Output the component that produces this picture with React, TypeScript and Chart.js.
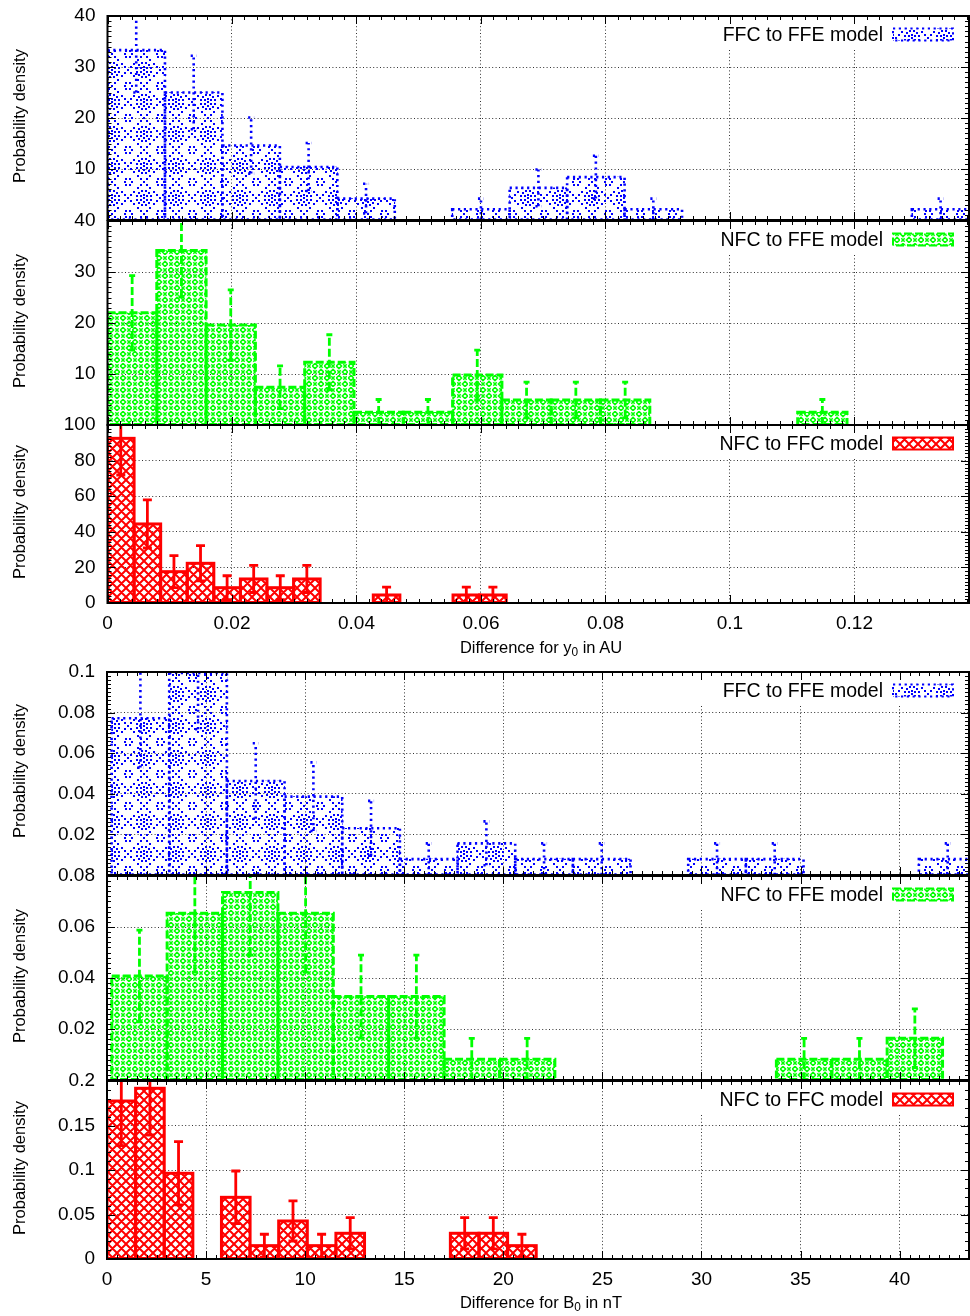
import React, { useEffect, useRef } from 'react';
import { Chart, registerables } from 'chart.js';

Chart.register(...registerables);

const FONT = '"Liberation Sans", Arial, Helvetica, sans-serif';

// ---------- Difference for y0 (AU): 15 equal-width bins per comparison ----------
const y0XMax = 0.1384;
const y0XStep = 0.02;

const y0FfcFfeStart = 0;
const y0FfcFfeWidth = 0.00923;
const y0FfcFfeDensity = [33.3, 25.0, 14.6, 10.4, 4.2, 0, 2.1, 6.3, 8.4, 2.1, 0, 0, 0, 0, 2.1];
const y0FfcFfeError = [8.3, 7.2, 5.5, 4.7, 2.9, 0, 2.1, 3.6, 4.2, 2.1, 0, 0, 0, 0, 2.1];
const y0FfcFfeYMax = 40;
const y0FfcFfeYStep = 10;

const y0NfcFfeStart = 0;
const y0NfcFfeWidth = 0.00792;
const y0NfcFfeDensity = [22.0, 34.2, 19.6, 7.4, 12.3, 2.5, 2.5, 9.8, 4.9, 4.9, 4.9, 0, 0, 0, 2.5];
const y0NfcFfeError = [7.3, 9.1, 6.9, 4.2, 5.4, 2.5, 2.5, 4.9, 3.5, 3.5, 3.5, 0, 0, 0, 2.5];
const y0NfcFfeYMax = 40;
const y0NfcFfeYStep = 10;

const y0NfcFfcStart = 0;
const y0NfcFfcWidth = 0.00427;
const y0NfcFfcDensity = [92.5, 44.4, 17.6, 22.3, 8.6, 13.5, 8.6, 13.5, 0, 0, 4.5, 0, 0, 4.5, 4.5];
const y0NfcFfcError = [20.6, 13.5, 9.0, 9.9, 6.7, 7.6, 6.7, 7.6, 0, 0, 4.4, 0, 0, 4.4, 4.4];
const y0NfcFfcYMax = 100;
const y0NfcFfcYStep = 20;

// ---------- Difference for B0 (nT) ----------
const b0XMax = 43.5;
const b0XStep = 5;

const b0FfcFfeStart = 0.23;
const b0FfcFfeWidth = 2.91;
const b0FfcFfeDensity = [0.0772, 0.0995, 0.0463, 0.0386, 0.023, 0.0078, 0.0156, 0.0078, 0.0078, 0, 0.0078, 0.0078, 0, 0, 0.0078];
const b0FfcFfeError = [0.0243, 0.0277, 0.0186, 0.0169, 0.0135, 0.0078, 0.0108, 0.0078, 0.0078, 0, 0.0078, 0.0078, 0, 0, 0.0078];
const b0FfcFfeYMax = 0.1;
const b0FfcFfeYStep = 0.02;

const b0NfcFfeStart = 0.24;
const b0NfcFfeWidth = 2.795;
const b0NfcFfeDensity = [0.0408, 0.0654, 0.0735, 0.0654, 0.0327, 0.0327, 0.0081, 0.0081, 0, 0, 0, 0, 0.0081, 0.0081, 0.0164];
const b0NfcFfeError = [0.018, 0.0231, 0.0245, 0.0231, 0.0163, 0.0163, 0.0082, 0.0082, 0, 0, 0, 0, 0.0082, 0.0082, 0.0115];
const b0NfcFfeYMax = 0.08;
const b0NfcFfeYStep = 0.02;

const b0NfcFfcStart = 0;
const b0NfcFfcWidth = 1.444;
const b0NfcFfcDensity = [0.1775, 0.1918, 0.0963, 0, 0.0693, 0.015, 0.0427, 0.015, 0.0289, 0, 0, 0, 0.0289, 0.0289, 0.015];
const b0NfcFfcError = [0.05, 0.0525, 0.0355, 0, 0.0296, 0.0128, 0.0225, 0.0128, 0.0175, 0, 0, 0, 0.0175, 0.0175, 0.0128];
const b0NfcFfcYMax = 0.2;
const b0NfcFfcYStep = 0.05;

const LABEL_FFC_FFE = 'FFC to FFE model';
const LABEL_NFC_FFE = 'NFC to FFE model';
const LABEL_NFC_FFC = 'NFC to FFC model';

const BLUE = '#0000ff';
const GREEN = '#00ff00';
const RED = '#ff0000';

type Style = 'dot' | 'dash' | 'solid';

const LINE: Record<Style, { dash: number[]; width: number; cap: number; err: number }> = {
  dot: { dash: [2.2, 3.6], width: 2.6, cap: 3, err: 2.6 },
  dash: { dash: [8, 3], width: 3, cap: 3, err: 2.8 },
  solid: { dash: [], width: 3, cap: 4.5, err: 2.8 },
};

interface Panel {
  key: string;
  top: number;
  bottom: number;
  left: number;
  right: number;
  xMax: number;
  xStep: number;
  yMax: number;
  yStep: number;
  yMinor: number;
  start: number;
  width: number;
  density: number[];
  error: number[];
  color: string;
  style: Style;
  label: string;
  axis: boolean;
  hideZero: boolean;
}

const PAD_T = 26;
const PAD_B = 26;
const AXIS_H = 40;

const PANELS: Panel[] = [
  { key: 'y0a', top: 16, bottom: 220, left: 107.5, right: 969, xMax: y0XMax, xStep: y0XStep, yMax: y0FfcFfeYMax, yStep: y0FfcFfeYStep, yMinor: 10, start: y0FfcFfeStart, width: y0FfcFfeWidth, density: y0FfcFfeDensity, error: y0FfcFfeError, color: BLUE, style: 'dot', label: LABEL_FFC_FFE, axis: false, hideZero: true },
  { key: 'y0b', top: 221, bottom: 425, left: 107.5, right: 969, xMax: y0XMax, xStep: y0XStep, yMax: y0NfcFfeYMax, yStep: y0NfcFfeYStep, yMinor: 10, start: y0NfcFfeStart, width: y0NfcFfeWidth, density: y0NfcFfeDensity, error: y0NfcFfeError, color: GREEN, style: 'dash', label: LABEL_NFC_FFE, axis: false, hideZero: true },
  { key: 'y0c', top: 425, bottom: 603, left: 107.5, right: 969, xMax: y0XMax, xStep: y0XStep, yMax: y0NfcFfcYMax, yStep: y0NfcFfcYStep, yMinor: 10, start: y0NfcFfcStart, width: y0NfcFfcWidth, density: y0NfcFfcDensity, error: y0NfcFfcError, color: RED, style: 'solid', label: LABEL_NFC_FFC, axis: true, hideZero: false },
  { key: 'b0a', top: 672, bottom: 875, left: 107, right: 969, xMax: b0XMax, xStep: b0XStep, yMax: b0FfcFfeYMax, yStep: b0FfcFfeYStep, yMinor: 10, start: b0FfcFfeStart, width: b0FfcFfeWidth, density: b0FfcFfeDensity, error: b0FfcFfeError, color: BLUE, style: 'dot', label: LABEL_FFC_FFE, axis: false, hideZero: true },
  { key: 'b0b', top: 876, bottom: 1080, left: 107, right: 969, xMax: b0XMax, xStep: b0XStep, yMax: b0NfcFfeYMax, yStep: b0NfcFfeYStep, yMinor: 10, start: b0NfcFfeStart, width: b0NfcFfeWidth, density: b0NfcFfeDensity, error: b0NfcFfeError, color: GREEN, style: 'dash', label: LABEL_NFC_FFE, axis: false, hideZero: true },
  { key: 'b0c', top: 1081, bottom: 1259, left: 107, right: 969, xMax: b0XMax, xStep: b0XStep, yMax: b0NfcFfcYMax, yStep: b0NfcFfcYStep, yMinor: 5, start: b0NfcFfcStart, width: b0NfcFfcWidth, density: b0NfcFfcDensity, error: b0NfcFfcError, color: RED, style: 'solid', label: LABEL_NFC_FFC, axis: true, hideZero: false },
];

const canvasHeight = (p: Panel) => PAD_T + (p.bottom - p.top) + (p.axis ? AXIS_H : PAD_B);

// Hatch fills: red lattice, green diamonds-and-crosses, blue dotted diamonds with rings
function makePattern(style: Style, color: string): CanvasPattern {
  const tile = document.createElement('canvas');
  const s = style === 'dot' ? 32 : style === 'dash' ? 12 : 9;
  tile.width = s;
  tile.height = s;
  const g = tile.getContext('2d')!;
  g.strokeStyle = color;
  g.fillStyle = color;
  if (style === 'solid') {
    g.lineWidth = 2;
    g.beginPath();
    for (const o of [-s, 0, s]) {
      g.moveTo(o, 0);
      g.lineTo(o + s, s);
      g.moveTo(o + s, 0);
      g.lineTo(o, s);
    }
    g.stroke();
  } else if (style === 'dash') {
    g.lineWidth = 1.5;
    for (const [cx, cy] of [[3, 3], [9, 9]]) {
      g.beginPath();
      g.moveTo(cx, cy - 2.6);
      g.lineTo(cx + 2.6, cy);
      g.lineTo(cx, cy + 2.6);
      g.lineTo(cx - 2.6, cy);
      g.closePath();
      g.stroke();
    }
    for (const [cx, cy] of [[9, 3], [3, 9]]) {
      g.beginPath();
      g.moveTo(cx - 1.7, cy - 1.7);
      g.lineTo(cx + 1.7, cy + 1.7);
      g.moveTo(cx + 1.7, cy - 1.7);
      g.lineTo(cx - 1.7, cy + 1.7);
      g.stroke();
    }
  } else {
    const h = s / 2;
    const dot = (x: number, y: number) => g.fillRect(Math.round(x - 1), Math.round(y - 1), 2, 2);
    // dotted diamond edges
    const n = 5;
    const edges = [
      [0, h, h, 0],
      [h, 0, s, h],
      [s, h, h, s],
      [h, s, 0, h],
    ];
    for (const [x1, y1, x2, y2] of edges) {
      for (let k = 0; k < n; k++) {
        const t = k / n;
        dot(x1 + (x2 - x1) * t, y1 + (y2 - y1) * t);
      }
    }
    // dotted rings at the cell centres, small rings at the corners
    for (const [r, m] of [[7.5, 12], [3.5, 6]]) {
      for (let k = 0; k < m; k++) {
        const a = (k / m) * Math.PI * 2 + Math.PI / m;
        dot(h + r * Math.cos(a), h + r * Math.sin(a));
      }
    }
    dot(h, h);
    for (const [cx, cy] of [[0, 0], [s, 0], [0, s], [s, s]]) {
      for (let k = 0; k < 6; k++) {
        const a = (k / 6) * Math.PI * 2;
        dot(cx + 3.5 * Math.cos(a), cy + 3.5 * Math.sin(a));
      }
    }
  }
  return g.createPattern(tile, 'repeat')!;
}

const fmt = (v: number) => String(Number(v.toFixed(4)));

function makeOverlay(p: Panel, pattern: CanvasPattern) {
  const st = LINE[p.style];
  return {
    id: 'overlay',
    beforeDatasetsDraw(chart: any) {
      // opaque key box over the grid
      const { top, right } = chart.chartArea;
      const ctx = chart.ctx;
      ctx.save();
      ctx.fillStyle = '#fff';
      ctx.fillRect(right - 277, top + 1.5, 271, 31);
      ctx.restore();
    },
    afterDatasetsDraw(chart: any) {
      const ctx = chart.ctx;
      const area = chart.chartArea;
      const ys = chart.scales.y;
      const meta = chart.getDatasetMeta(0);
      ctx.save();
      ctx.beginPath();
      ctx.rect(area.left, area.top - 1, area.right - area.left, area.bottom - area.top + 1);
      ctx.clip();
      ctx.strokeStyle = p.color;
      ctx.setLineDash(st.dash);
      ctx.lineCap = 'butt';
      ctx.lineWidth = st.width;
      meta.data.forEach((el: any, i: number) => {
        if (!p.density[i]) return;
        const { x, y, base, width } = el.getProps(['x', 'y', 'base', 'width'], true);
        ctx.strokeRect(x - width / 2, y, width, base - y);
      });
      ctx.lineWidth = st.err;
      meta.data.forEach((el: any, i: number) => {
        const e = p.error[i];
        if (!e) return;
        const { x } = el.getProps(['x'], true);
        const yHi = ys.getPixelForValue(p.density[i] + e);
        const yLo = ys.getPixelForValue(p.density[i] - e);
        ctx.beginPath();
        ctx.moveTo(x, yLo);
        ctx.lineTo(x, yHi);
        ctx.moveTo(x - st.cap, yHi);
        ctx.lineTo(x + st.cap, yHi);
        ctx.moveTo(x - st.cap, yLo);
        ctx.lineTo(x + st.cap, yLo);
        ctx.stroke();
      });
      ctx.restore();
    },
    afterDraw(chart: any) {
      const ctx = chart.ctx;
      const { left, right, top, bottom } = chart.chartArea;
      const xs = chart.scales.x;
      const ys = chart.scales.y;
      ctx.save();
      // inward major / minor tick marks on all four sides
      ctx.strokeStyle = '#000';
      ctx.lineWidth = 1;
      ctx.setLineDash([]);
      ctx.beginPath();
      const xMinor = p.xStep / 10;
      for (let k = 0; k * xMinor <= p.xMax + 1e-9; k++) {
        const px = Math.round(xs.getPixelForValue(k * xMinor)) + 0.5;
        const len = k % 10 === 0 ? 8 : 4;
        ctx.moveTo(px, bottom);
        ctx.lineTo(px, bottom - len);
        ctx.moveTo(px, top);
        ctx.lineTo(px, top + len);
      }
      const yMinor = p.yStep / p.yMinor;
      for (let k = 0; k * yMinor <= p.yMax + 1e-9; k++) {
        const py = Math.round(ys.getPixelForValue(k * yMinor)) + 0.5;
        const len = k % p.yMinor === 0 ? 8 : 4;
        ctx.moveTo(left, py);
        ctx.lineTo(left + len, py);
        ctx.moveTo(right, py);
        ctx.lineTo(right - len, py);
      }
      ctx.stroke();
      // frame
      ctx.lineWidth = 2;
      ctx.strokeRect(left, top, right - left, bottom - top);
      // key
      const cy = top + 18.5;
      ctx.font = `19.5px ${FONT}`;
      ctx.fillStyle = '#000';
      ctx.textAlign = 'right';
      ctx.textBaseline = 'middle';
      ctx.fillText(p.label, right - 86, cy + 1);
      const bx = right - 76;
      ctx.fillStyle = pattern;
      ctx.fillRect(bx, cy - 6, 60, 12);
      ctx.strokeStyle = p.color;
      ctx.setLineDash(st.dash);
      ctx.lineWidth = 2;
      ctx.strokeRect(bx, cy - 6, 60, 12);
      ctx.restore();
    },
  };
}

function createPanel(canvas: HTMLCanvasElement, p: Panel) {
  const pattern = makePattern(p.style, p.color);
  const data = p.density.map((v, i) => ({ x: p.start + (i + 0.5) * p.width, y: v }));
  const grid = { color: 'rgba(0,0,0,0.8)', lineWidth: 1, drawTicks: false };
  const border = { display: false, dash: [1, 2.4] };
  const font = { family: FONT, size: 19 };
  return new Chart(canvas, {
    type: 'bar',
    data: {
      datasets: [
        {
          label: p.label,
          data,
          backgroundColor: pattern,
          borderWidth: 0,
          barPercentage: 1,
          categoryPercentage: 1,
        },
      ],
    },
    options: {
      animation: false,
      responsive: false,
      devicePixelRatio: 1,
      events: [],
      layout: { padding: { top: PAD_T, bottom: p.axis ? 0 : PAD_B, left: 0, right: 970 - p.right } },
      plugins: { legend: { display: false }, tooltip: { enabled: false } },
      scales: {
        x: {
          type: 'linear',
          min: 0,
          max: p.xMax,
          offset: false,
          grid: { ...grid, offset: false },
          border,
          ticks: {
            display: p.axis,
            stepSize: p.xStep,
            includeBounds: false,
            autoSkip: false,
            maxRotation: 0,
            padding: 9,
            font,
            color: '#000',
            callback: (v: any) => fmt(+v),
          },
          afterFit: (s: any) => {
            s.height = p.axis ? AXIS_H : 0;
          },
        },
        y: {
          type: 'linear',
          min: 0,
          max: p.yMax,
          grid,
          border,
          ticks: {
            stepSize: p.yStep,
            includeBounds: false,
            padding: 12,
            font,
            color: '#000',
            callback: (v: any) => (p.hideZero && +v === 0 ? '' : fmt(+v)),
          },
          afterFit: (s: any) => {
            s.width = p.left;
          },
        },
      },
    } as any,
    plugins: [makeOverlay(p, pattern)],
  });
}

const subStyle: React.CSSProperties = { fontSize: '0.72em', verticalAlign: '-0.3em', lineHeight: 0 };

export default function App() {
  const refs = useRef<(HTMLCanvasElement | null)[]>([]);

  useEffect(() => {
    const charts = PANELS.map((p, i) => createPanel(refs.current[i]!, p));
    return () => charts.forEach((c) => c.destroy());
  }, []);

  return (
    <div
      style={{
        position: 'absolute',
        left: 0,
        top: 0,
        width: 970,
        height: 1316,
        background: '#fff',
        fontFamily: FONT,
        color: '#000',
        overflow: 'hidden',
      }}
    >
      {PANELS.map((p, i) => (
        <canvas
          key={p.key}
          ref={(el) => {
            refs.current[i] = el;
          }}
          width={970}
          height={canvasHeight(p)}
          style={{ position: 'absolute', left: 0, top: p.top - PAD_T, width: 970, height: canvasHeight(p) }}
        />
      ))}
      {PANELS.map((p) => (
        <div
          key={p.key + '-yt'}
          style={{
            position: 'absolute',
            left: 18.5,
            top: (p.top + p.bottom) / 2 - 2.5,
            transform: 'translate(-50%, -50%) rotate(-90deg)',
            fontSize: 16.5,
            whiteSpace: 'nowrap',
            lineHeight: 1,
          }}
        >
          Probability density
        </div>
      ))}
      <div
        style={{
          position: 'absolute',
          left: 541,
          top: 647,
          transform: 'translate(-50%, -50%)',
          fontSize: 16.5,
          whiteSpace: 'nowrap',
          lineHeight: 1,
        }}
      >
        Difference for y<sub style={subStyle}>0</sub> in AU
      </div>
      <div
        style={{
          position: 'absolute',
          left: 541,
          top: 1302,
          transform: 'translate(-50%, -50%)',
          fontSize: 16.5,
          whiteSpace: 'nowrap',
          lineHeight: 1,
        }}
      >
        Difference for B<sub style={subStyle}>0</sub> in nT
      </div>
    </div>
  );
}
